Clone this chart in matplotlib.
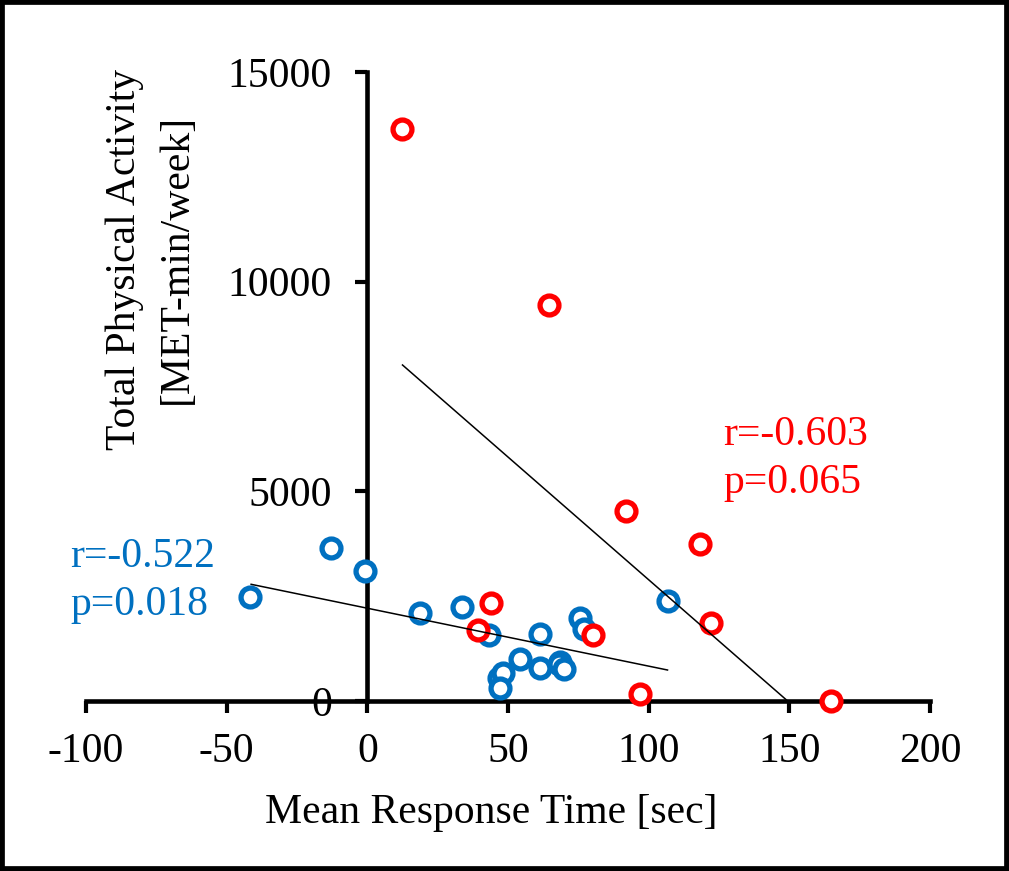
import matplotlib
matplotlib.use("Agg")
import matplotlib.pyplot as plt
from matplotlib.patches import Rectangle

plt.rcParams["font.family"] = ["Liberation Serif", "DejaVu Serif"]

BLUE = "#0070C0"
RED = "#FF0000"

# blue group: mean response time [sec] vs total PA [MET-min/week]
blue_x = [-41.6, -12.9, -0.7, 18.6, 33.6, 43.1, 46.7, 48.2, 47.3, 54.4,
          61.5, 61.5, 68.6, 68.0, 69.8, 75.5, 76.9, 106.7]
blue_y = [2480, 3640, 3100, 2090, 2250, 1574, 541, 660, 303, 994,
          1590, 795, 937, 882, 756, 1970, 1708, 2385]

# red group
red_x = [12.3, 64.4, 91.9, 118.3, 122.2, 80.2, 97.0, 164.8, 44.0, 39.2]
red_y = [13630, 9444, 4531, 3744, 1867, 1574, 160, 0, 2345, 1693]

# regression lines (end points)
blue_fit_x = [-41.3, 106.7]
blue_fit_y = [2783, 739]
red_fit_x = [12.5, 149.4]
red_fit_y = [8013, 0]

x_ticks = [-100, -50, 0, 50, 100, 150, 200]
y_ticks = [0, 5000, 10000, 15000]

W, H = 1009, 871
fig = plt.figure(figsize=(W / 100, H / 100), dpi=100)
ax = fig.add_axes([86 / W, 1 - 701 / H, (930 - 86) / W, (701 - 72) / H])

ax.plot(blue_x, blue_y, "o", ms=13.6, mew=3.8, mec=BLUE, mfc="white",
        zorder=3, clip_on=False)
ax.plot(red_x, red_y, "o", ms=13.6, mew=3.8, mec=RED, mfc="white",
        zorder=3, clip_on=False)
ax.plot(blue_fit_x, blue_fit_y, color="black", lw=1.1, zorder=4)
ax.plot(red_fit_x, red_fit_y, color="black", lw=1.1, zorder=4)

ax.set_xlim(-100, 200)
ax.set_ylim(0, 15000)
ax.set_xticks(x_ticks)
ax.set_yticks(y_ticks)
ax.set_xticklabels([str(v) for v in x_ticks])
ax.set_yticklabels([str(v) for v in y_ticks])

ax.spines["left"].set_position(("data", 0))
ax.spines["top"].set_visible(False)
ax.spines["right"].set_visible(False)
for s in ("left", "bottom"):
    ax.spines[s].set_linewidth(3.3)
    ax.spines[s].set_capstyle("projecting")
ax.tick_params(axis="both", direction="out", length=8.6, width=3.0,
               labelsize=30, color="black")
ax.tick_params(axis="x", pad=14)
ax.tick_params(axis="y", pad=17)

# axis titles
fig.text(491.5 / W, 1 - 823 / H, "Mean Response Time [sec]", fontsize=30,
         ha="center", va="baseline")
fig.text(135 / W, 1 - 259 / H, "Total Physical Activity", fontsize=30,
         rotation=90, rotation_mode="anchor", ha="center", va="baseline")
fig.text(187 / W, 1 - 259 / H, "[MET-min/week]", fontsize=30,
         rotation=90, rotation_mode="anchor", ha="center", va="baseline")

# correlation notes
fig.text(70 / W, 1 - 567 / H, "r=-0.522", fontsize=30, color=BLUE, va="baseline")
fig.text(70 / W, 1 - 615 / H, "p=0.018", fontsize=30, color=BLUE, va="baseline")
fig.text(723 / W, 1 - 445 / H, "r=-0.603", fontsize=30, color=RED, va="baseline")
fig.text(723 / W, 1 - 493 / H, "p=0.065", fontsize=30, color=RED, va="baseline")

# black frame around the picture
fig.patches.append(Rectangle((0, 0), 1, 1, transform=fig.transFigure,
                             fill=False, edgecolor="black", linewidth=7))

fig.savefig("out.png", dpi=100)
